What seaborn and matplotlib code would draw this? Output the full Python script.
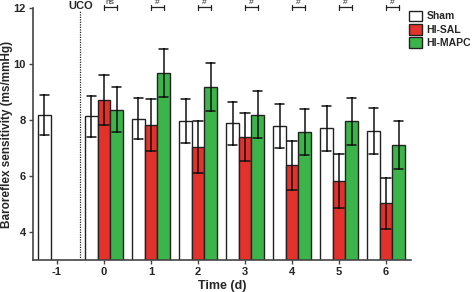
import numpy as np
import pandas as pd
import seaborn as sns
import matplotlib.pyplot as plt

# values (mean and SEM per day and group)
days = ["-1", "0", "1", "2", "3", "4", "5", "6"]
groups = ["Sham", "HI-SAL", "HI-MAPC"]
sham_mean = [8.19, 8.13, 8.05, 7.96, 7.88, 7.79, 7.70, 7.62]
sham_sem = [0.72, 0.74, 0.74, 0.78, 0.77, 0.79, 0.81, 0.82]
sal_mean = [np.nan, 8.71, 7.82, 7.04, 7.38, 6.38, 5.82, 5.02]
sal_sem = [np.nan, 0.88, 0.93, 0.94, 0.86, 0.88, 0.97, 0.90]
mapc_mean = [np.nan, 8.37, 9.67, 9.18, 8.19, 7.58, 7.95, 7.11]
mapc_sem = [np.nan, 0.80, 0.85, 0.87, 0.85, 0.82, 0.85, 0.87]
sig_labels = ["ns", "#", "#", "#", "#", "#", "#"]  # HI-SAL vs HI-MAPC, days 0..6
colors = {"Sham": "#FFFFFF", "HI-SAL": "#E3312B", "HI-MAPC": "#3BB54A"}

# two rows per bar (mean - sem, mean + sem) -> mean bar, min/max errorbar
rows = []
for g, m, s in [("Sham", sham_mean, sham_sem), ("HI-SAL", sal_mean, sal_sem),
                ("HI-MAPC", mapc_mean, mapc_sem)]:
    for d, mm, ss in zip(days, m, s):
        if np.isnan(mm):
            continue
        rows.append({"day": d, "group": g, "bsr": mm - ss})
        rows.append({"day": d, "group": g, "bsr": mm + ss})
df = pd.DataFrame(rows)

sns.set_style("ticks")
plt.rcParams["font.family"] = ["Liberation Sans", "DejaVu Sans"]
plt.rcParams["font.weight"] = "bold"

fig = plt.figure(figsize=(4.72, 2.92), dpi=100)
ax = fig.add_axes([0.0699, 0.1096, 0.871 - 0.0699, 0.9726 - 0.1096])

sns.barplot(data=df, x="day", y="bsr", hue="group", order=days, hue_order=groups,
            palette=colors, saturation=1, estimator="mean",
            errorbar=lambda v: (v.min(), v.max()),
            capsize=0.6, width=0.8, edgecolor="#222222", linewidth=1.0,
            err_kws={"color": "#111111", "linewidth": 1.1}, ax=ax)

ax.set_ylim(3, 12)
ax.set_xlim(-0.51, 7.53)
ax.set_yticks([4, 6, 8, 10, 12])
ax.set_xlabel("Time (d)", fontsize=9, fontweight="bold", labelpad=2)
ax.set_ylabel("Baroreflex sensitivity (ms/mmHg)", fontsize=8.5, fontweight="bold",
              labelpad=0.5)
ax.tick_params(axis="both", labelsize=8, direction="out", length=3, width=1,
               color="#444444", pad=2)
for lab in ax.get_xticklabels() + ax.get_yticklabels():
    lab.set_fontweight("bold")
for sp in ["top", "right"]:
    ax.spines[sp].set_visible(False)
for sp in ["left", "bottom"]:
    ax.spines[sp].set_color("#444444")
    ax.spines[sp].set_linewidth(1.2)

# UCO marker
ax.axvline(0.5, ymin=0, ymax=(11.9 - 3) / 9, color="#222222", linestyle=(0, (1, 1)),
           linewidth=0.9)
ax.text(0.5, 12.06, "UCO", ha="center", va="center", fontsize=8, fontweight="bold",
        clip_on=False)

# significance brackets between HI-SAL and HI-MAPC
off = 0.8 / 3
for i, lab in enumerate(sig_labels):
    x0, x1 = i + 1, i + 1 + off
    yb = 12.02
    ax.plot([x0, x1], [yb, yb], color="#222222", lw=0.9, clip_on=False)
    ax.plot([x0, x0], [yb - 0.08, yb + 0.08], color="#222222", lw=0.9, clip_on=False)
    ax.plot([x1, x1], [yb - 0.08, yb + 0.08], color="#222222", lw=0.9, clip_on=False)
    ax.text((x0 + x1) / 2, yb + 0.04, lab, ha="center", va="bottom", fontsize=6,
            fontweight="normal", clip_on=False)

handles, labels = ax.get_legend_handles_labels()
ax.legend(handles, labels, loc="upper left", bbox_to_anchor=(0.995, 0.99), frameon=False,
          prop={"size": 7.5, "weight": "bold"}, handlelength=1.2, handleheight=1.2,
          handletextpad=0.45, labelspacing=0.25, borderaxespad=0, borderpad=0)

fig.savefig("out.png", dpi=100)
